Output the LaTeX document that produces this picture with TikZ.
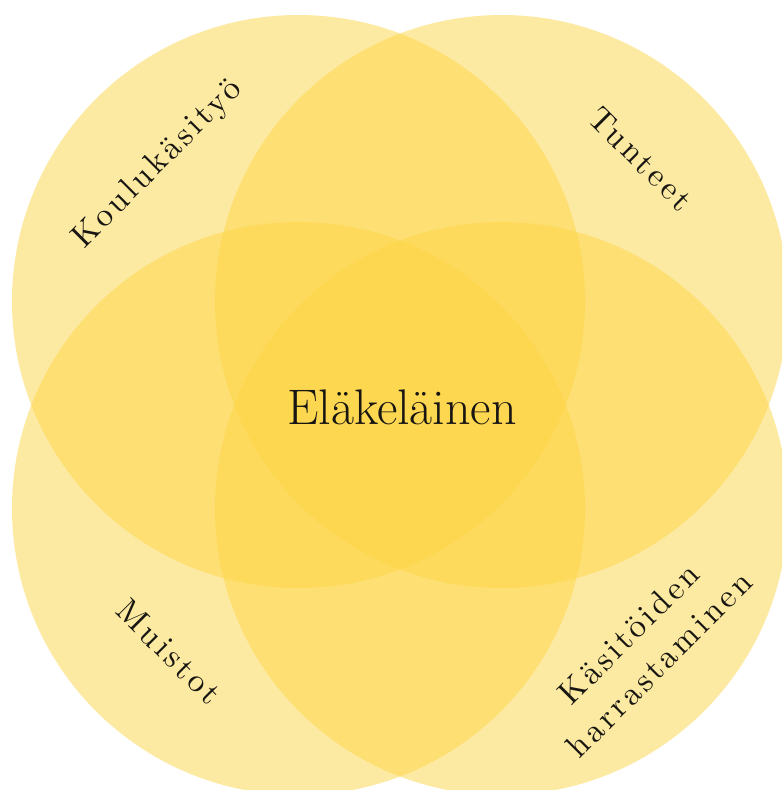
\documentclass[tikz,border=0pt]{standalone}
\usepackage{fontspec}
\newfontfamily\spacedfont[LetterSpace=10]{lmroman10-regular.otf}
\definecolor{venngold}{RGB}{253,214,70}
\definecolor{inkblack}{RGB}{24,22,18}
\tikzset{
  venn/.style={fill=venngold, fill opacity=0.5},
  main label/.style={font=\fontsize{50}{56}\selectfont, text=inkblack},
  side label/.style={font=\spacedfont\fontsize{33}{43}\selectfont, text=inkblack, align=center},
}
\begin{document}
\begin{tikzpicture}[x=1pt,y=-1pt]
\useasboundingbox (0,0) rectangle (782,790);
\clip (0,0) rectangle (782,790);
\fill[white] (0,0) rectangle (782,790);
\coordinate (TL) at (298.5,301.5);
\coordinate (TR) at (501.5,301.5);
\coordinate (BL) at (298.5,508.5);
\coordinate (BR) at (501.5,508.5);

\fill[venn] (TL) circle[radius=286.5pt];
\fill[venn] (TR) circle[radius=286.5pt];
\fill[venn] (BL) circle[radius=286.5pt];
\fill[venn] (BR) circle[radius=286.5pt];

\node[main label] (retiree) at (402,407) {Eläkeläinen};
\node[side label, rotate=45] (school) at (158,164) {Koulukäsityö};
\node[side label, rotate=-45] (feelings) at (641,159) {Tunteet};
\node[side label, rotate=-45] (memories) at (169,652) {Muistot};
\node[side label, rotate=45] (hobby) at (644,649) {Käsitöiden\\harrastaminen};
\end{tikzpicture}
\end{document}
